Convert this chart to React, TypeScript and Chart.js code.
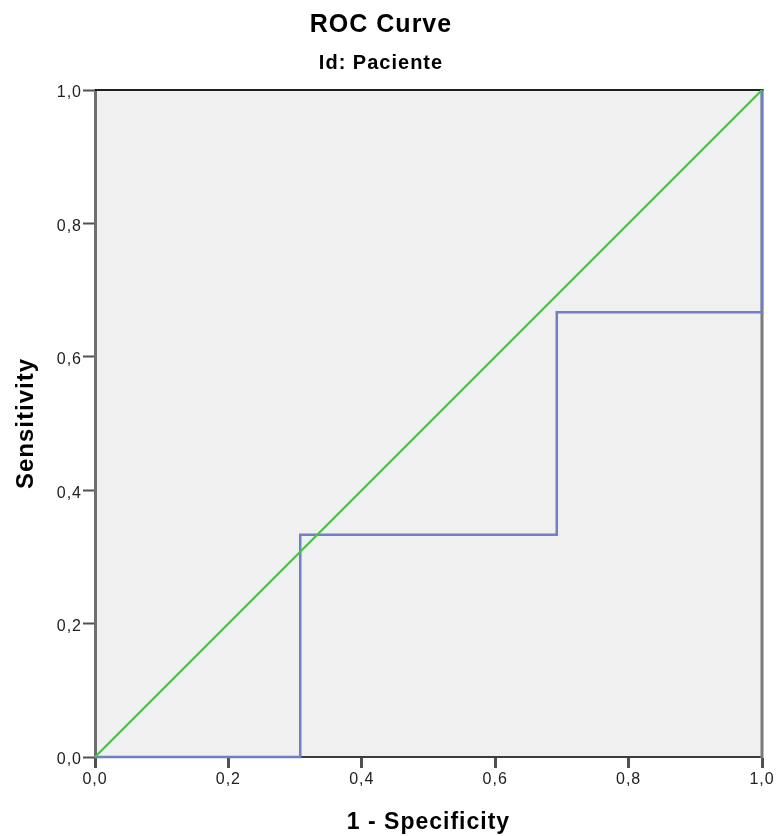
import React, { useEffect, useRef } from 'react';
import { Chart, registerables } from 'chart.js';

Chart.register(...registerables);

const chartTitle = 'ROC Curve';
const chartSubtitle = 'Id: Paciente';
const xAxisTitle = '1 - Specificity';
const yAxisTitle = 'Sensitivity';
const axisTicks = [0, 0.2, 0.4, 0.6, 0.8, 1.0];

// ROC curve corner points (1 - specificity, sensitivity)
const rocFalsePositiveRate = [0, 0.3077, 0.3077, 0.6923, 0.6923, 1, 1];
const rocSensitivity = [0, 0, 0.3333, 0.3333, 0.6667, 0.6667, 1];

// Diagonal reference line
const referenceX = [0, 1];
const referenceY = [0, 1];

const FONT = '"Liberation Sans", Arial, Helvetica, sans-serif';
const fmt = (v: number) => Number(v).toFixed(1).replace('.', ',');

const plotFrame = {
  id: 'plotFrame',
  beforeDraw(chart: any) {
    const { ctx, chartArea: a } = chart;
    ctx.save();
    ctx.fillStyle = '#f0f0f0';
    ctx.fillRect(a.left, a.top, a.right - a.left, a.bottom - a.top);
    ctx.restore();
    ctx.letterSpacing = '1px';
  },
  beforeDatasetsDraw(chart: any) {
    const { ctx, chartArea: a } = chart;
    ctx.save();
    ctx.lineWidth = 3;
    ctx.strokeStyle = '#7a7a7a';
    ctx.beginPath();
    ctx.moveTo(a.right, a.top);
    ctx.lineTo(a.right, a.bottom + 1);
    ctx.stroke();
    ctx.lineWidth = 2;
    ctx.strokeStyle = '#1e1e1e';
    ctx.beginPath();
    ctx.moveTo(a.left, a.top);
    ctx.lineTo(a.right + 1.5, a.top);
    ctx.stroke();
    ctx.restore();
  },
  afterDraw(chart: any) {
    chart.ctx.letterSpacing = '0px';
  },
};

export default function App() {
  const canvasRef = useRef<HTMLCanvasElement | null>(null);

  useEffect(() => {
    if (!canvasRef.current) return;
    const setTicks = (s: any) => {
      s.ticks = axisTicks.map((value) => ({ value }));
    };
    const chart = new Chart(canvasRef.current, {
      type: 'scatter',
      data: {
        datasets: [
          {
            label: 'Reference Line',
            data: referenceX.map((x, i) => ({ x, y: referenceY[i] })),
            showLine: true,
            borderColor: '#48c048',
            backgroundColor: '#48c048',
            borderWidth: 2.2,
            pointRadius: 0,
            tension: 0,
            fill: false,
            clip: false,
          } as any,
          {
            label: 'ROC',
            data: rocFalsePositiveRate.map((x, i) => ({ x, y: rocSensitivity[i] })),
            showLine: true,
            borderColor: '#6f80c6',
            backgroundColor: '#6f80c6',
            borderWidth: 2.5,
            pointRadius: 0,
            tension: 0,
            fill: false,
            clip: false,
          } as any,
        ],
      },
      options: {
        responsive: false,
        animation: false,
        devicePixelRatio: 1,
        events: [],
        layout: { padding: { left: 0, right: 14, top: 0, bottom: 0 } },
        plugins: {
          legend: { display: false },
          tooltip: { enabled: false },
          title: {
            display: true,
            text: chartTitle,
            color: '#000',
            font: { family: FONT, size: 25, weight: 'bold', lineHeight: 1.2 },
            padding: { top: 10, bottom: 0 },
          },
          subtitle: {
            display: true,
            text: chartSubtitle,
            color: '#000',
            font: { family: FONT, size: 20, weight: 'bold', lineHeight: 1.2 },
            padding: { top: 11, bottom: 15 },
          },
        },
        scales: {
          x: {
            type: 'linear',
            position: 'bottom',
            min: 0,
            max: 1,
            afterBuildTicks: setTicks,
            afterFit: (s: any) => {
              s.height = 79;
            },
            grid: {
              drawOnChartArea: false,
              drawTicks: true,
              tickLength: 11,
              tickWidth: 3,
              tickColor: '#505050',
            },
            border: { display: true, color: '#3c3c3c', width: 2 },
            ticks: {
              callback: (v: any) => fmt(v),
              color: '#222',
              font: { family: FONT, size: 16 },
              padding: 2,
              maxRotation: 0,
              autoSkip: false,
            },
            title: {
              display: true,
              text: xAxisTitle,
              color: '#000',
              font: { family: FONT, size: 23, weight: 'bold', lineHeight: 1.2 },
              padding: { top: 0, bottom: 0 },
            },
          },
          y: {
            type: 'linear',
            position: 'left',
            min: 0,
            max: 1,
            afterBuildTicks: setTicks,
            afterFit: (s: any) => {
              s.width = 95;
            },
            grid: {
              drawOnChartArea: false,
              drawTicks: true,
              tickLength: 12,
              tickWidth: 2,
              tickColor: '#505050',
            },
            border: { display: true, color: '#6e6e6e', width: 3 },
            ticks: {
              callback: (v: any) => fmt(v),
              color: '#222',
              font: { family: FONT, size: 16 },
              padding: 1,
              labelOffset: 3,
              autoSkip: false,
            },
            title: {
              display: true,
              text: yAxisTitle,
              color: '#000',
              font: { family: FONT, size: 24, weight: 'bold', lineHeight: 1.2 },
              padding: { top: 12, bottom: 0 },
            },
          },
        },
      } as any,
      plugins: [plotFrame],
    });
    return () => chart.destroy();
  }, []);

  return (
    <div style={{ position: 'absolute', left: 0, top: 0, width: 776, height: 836, background: '#fff' }}>
      <canvas ref={canvasRef} width={776} height={836} style={{ display: 'block', width: 776, height: 836 }} />
    </div>
  );
}
